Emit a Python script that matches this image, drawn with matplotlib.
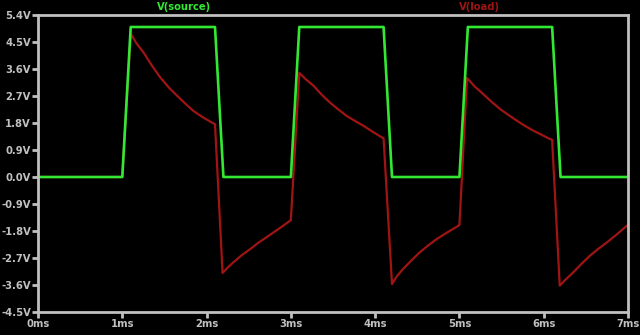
import matplotlib
matplotlib.use("Agg")
import matplotlib.pyplot as plt

# time in ms, voltages in V
t_source = [0.0, 1.0, 1.1, 2.1, 2.2, 3.0, 3.1, 4.1, 4.2, 5.0, 5.1, 6.1, 6.2, 7.0]
v_source = [0.0, 0.0, 5.0, 5.0, 0.0, 0.0, 5.0, 5.0, 0.0, 0.0, 5.0, 5.0, 0.0, 0.0]

t_load = [0.0, 1.0,
          1.1, 1.17, 1.25, 1.35, 1.45, 1.55, 1.65, 1.75, 1.84, 1.95, 2.06, 2.1,
          2.19, 2.25, 2.32, 2.42, 2.52, 2.61, 2.71, 2.85, 2.99, 3.0,
          3.1, 3.18, 3.27, 3.36, 3.46, 3.56, 3.66, 3.76, 3.86, 3.97, 4.08, 4.1,
          4.2, 4.26, 4.33, 4.43, 4.53, 4.63, 4.73, 4.86, 4.99, 5.0,
          5.09, 5.18, 5.28, 5.38, 5.48, 5.58, 5.68, 5.78, 5.88, 5.98, 6.07, 6.1,
          6.19, 6.27, 6.35, 6.45, 6.55, 6.65, 6.75, 6.86, 6.98, 7.0]
v_load = [0.0, 0.0,
          4.77, 4.45, 4.16, 3.72, 3.32, 2.99, 2.71, 2.44, 2.21, 2.0, 1.82, 1.76,
          -3.2, -3.02, -2.84, -2.6, -2.4, -2.2, -2.01, -1.74, -1.46, -1.44,
          3.47, 3.25, 3.04, 2.76, 2.49, 2.26, 2.04, 1.87, 1.71, 1.51, 1.32, 1.29,
          -3.57, -3.3, -3.07, -2.78, -2.51, -2.28, -2.07, -1.84, -1.62, -1.6,
          3.3, 3.02, 2.77, 2.51, 2.27, 2.07, 1.88, 1.7, 1.54, 1.4, 1.27, 1.24,
          -3.62, -3.39, -3.18, -2.89, -2.62, -2.39, -2.18, -1.93, -1.64, -1.6]

y_ticks = [-4.5, -3.6, -2.7, -1.8, -0.9, 0.0, 0.9, 1.8, 2.7, 3.6, 4.5, 5.4]
x_ticks = [0, 1, 2, 3, 4, 5, 6, 7]

green = '#33e833'
red = '#a01414'
grey = '#c0c0c0'

fig = plt.figure(figsize=(6.4, 3.35), dpi=100, facecolor='black')
ax = fig.add_axes([38 / 640, 1 - 312 / 335, 590 / 640, 297 / 335])
ax.set_facecolor('black')

ax.plot(t_load, v_load, color=red, lw=1.6)
ax.plot(t_source, v_source, color=green, lw=1.9)

ax.set_xlim(0, 7)
ax.set_ylim(-4.5, 5.4)
ax.set_xticks(x_ticks)
ax.set_xticklabels([f"{x}ms" for x in x_ticks])
ax.set_yticks(y_ticks)
ax.set_yticklabels([f"{y:.1f}V" for y in y_ticks])

for s in ax.spines.values():
    s.set_color(grey)
    s.set_linewidth(2)
ax.tick_params(colors=grey, width=2, length=4, pad=1, labelsize=7.2)
for lab in ax.get_xticklabels() + ax.get_yticklabels():
    lab.set_fontweight('bold')

fig.text(184 / 640, 1 - 7 / 335, "V(source)", color=green, fontsize=7.2,
         fontweight='bold', ha='center', va='center')
fig.text(479 / 640, 1 - 7 / 335, "V(load)", color=red, fontsize=7.2,
         fontweight='bold', ha='center', va='center')

fig.savefig("out.png", dpi=100, facecolor='black')
